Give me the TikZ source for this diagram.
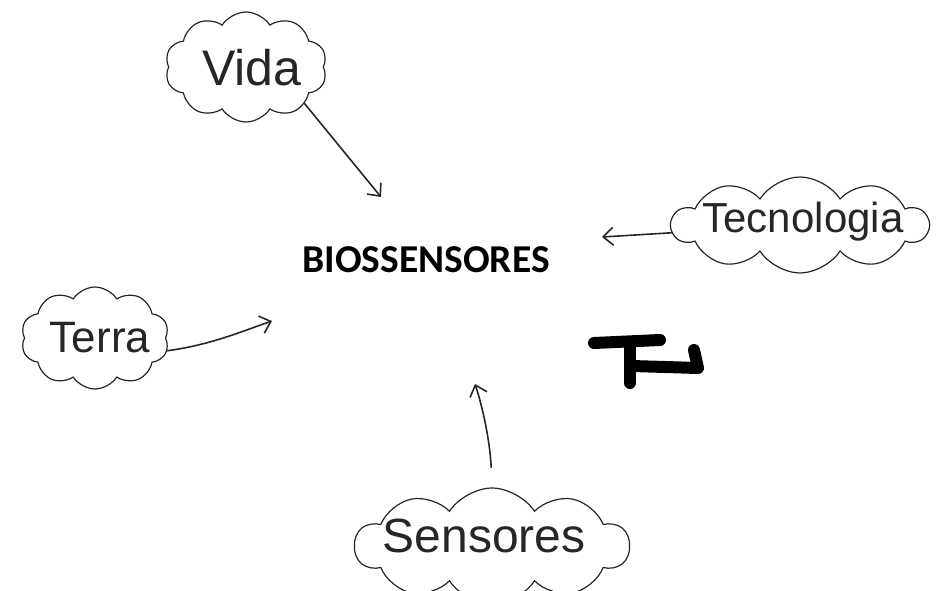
\documentclass[tikz,border=0pt]{standalone}
\usepackage{fontspec}
\setmainfont{Liberation Sans}
\newfontfamily\boldsans{Carlito}
\usetikzlibrary{shapes.symbols,arrows.meta}
\tikzset{
  cloudbox/.style={cloud, draw=black!85, line width=1.2pt, cloud puffs=10, cloud puff arc=115,
    cloud ignores aspect, inner sep=0pt, fill=white},
  handtext/.style={font=\fontsize{#1}{#1}\selectfont, text=black!85, inner sep=0pt},
  arr/.style={draw=black!85, line width=1.6pt, line cap=round,
    -{Straight Barb[length=10pt,width=18pt,line width=1.6pt]}},
  blob/.style={draw=black, line width=12pt, line cap=round, line join=round},
}
\begin{document}
\begin{tikzpicture}[x=1pt,y=-1pt]
\useasboundingbox (0,0) rectangle (936,591);
% clouds
\node[cloudbox, minimum width=162pt, minimum height=110pt] (vida) at (246,67) {};
\node[cloudbox, minimum width=256pt, minimum height=96pt] (tec) at (800,225) {};
\node[cloudbox, minimum width=148pt, minimum height=102pt] (terra) at (95,338) {};
\node[cloudbox, minimum width=274pt, minimum height=116pt] (sens) at (492,546) {};
% labels
\node[handtext=50] (vidaT) at (252,68) {Vida};
\node[handtext=42] (tecT) at (803,222) {Tecnologia};
\node[handtext=44] (terraT) at (100,338) {Terra};
\node[handtext=48] (sensT) at (484,536) {Sensores};
% centre
\node[font=\boldsans\bfseries\fontsize{39.5}{40}\selectfont, inner sep=0pt] (bio) at (426,260) {BIOSSENSORES};
% arrow ends
\coordinate (tipV) at (381,197);
\coordinate (tipT) at (602,237);
\coordinate (tipR) at (272,321);
\coordinate (tipS) at (475,384);
\draw[arr] (vida.-32) -- (tipV);
\draw[arr] (tec) -- (tipT);
\draw[arr] (terra.-10) .. controls (210,345) and (240,332) .. (tipR);
\draw[arr, shorten <=20pt] (sens.north) .. controls (490,440) and (482,405) .. (tipS);
% scribble
\coordinate (b1) at (594,343);
\coordinate (b2) at (660,340);
\coordinate (b3) at (630,345);
\coordinate (b4) at (630,383);
\coordinate (b5) at (632,366);
\coordinate (b6) at (698,368);
\coordinate (b7) at (694,350);
\draw[blob] (b1) -- (b2);
\draw[blob] (b3) -- (b4);
\draw[blob] (b5) -- (b6) -- (b7);
\end{tikzpicture}
\end{document}
